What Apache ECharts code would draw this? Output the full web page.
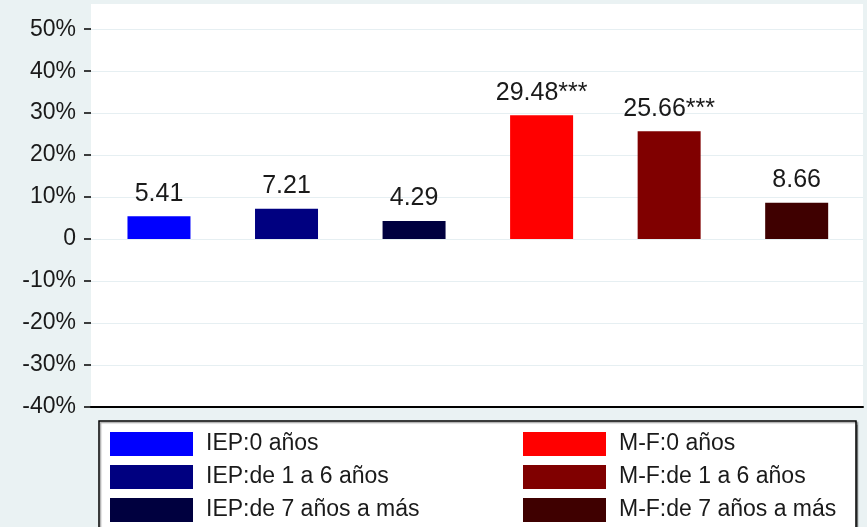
<!DOCTYPE html>
<html>
<head>
<meta charset="utf-8">
<script src="https://cdn.jsdelivr.net/npm/echarts@6/dist/echarts.min.js"></script>
<style>html,body{margin:0;padding:0;background:#EAF2F3;}#c{width:867px;height:527px;}</style>
</head>
<body>
<div id="c"></div>
<script>
const categories = ['IEP:0 años', 'IEP:de 1 a 6 años', 'IEP:de 7 años a más', 'M-F:0 años', 'M-F:de 1 a 6 años', 'M-F:de 7 años a más'];
const values = [5.41, 7.21, 4.29, 29.48, 25.66, 8.66];
const stars = ['', '', '', '***', '***', ''];
const colors = ['#0000FF', '#000080', '#00003F', '#FF0000', '#800000', '#3F0000'];
const yTicks = [-40, -30, -20, -10, 0, 10, 20, 30, 40, 50];

const FONT = '"Liberation Sans", Arial, sans-serif';
const chart = echarts.init(document.getElementById('c'), null, {renderer: 'canvas'});

const series = categories.map((name, i) => ({
  name: name,
  type: 'bar',
  data: [[i, values[i]]],
  barWidth: 63,
  barGap: '-100%',
  itemStyle: {color: colors[i]},
  label: {
    show: true,
    position: 'top',
    distance: 10,
    formatter: () => values[i].toFixed(2) + stars[i],
    fontFamily: FONT,
    fontSize: 25,
    color: '#1a1a1a'
  }
}));

const legendBase = {
  orient: 'vertical',
  top: 432,
  padding: 0,
  icon: 'rect',
  itemWidth: 83,
  itemHeight: 24,
  itemGap: 9,
  z: 10,
  textStyle: {fontFamily: FONT, fontSize: 23, color: '#1a1a1a', padding: [0, 0, 0, 8]}
};

chart.setOption({
  backgroundColor: '#EAF2F3',
  animation: false,
  grid: {left: 91, right: 4, top: 4, bottom: 120, show: true, backgroundColor: '#ffffff', borderWidth: 0},
  xAxis: {
    type: 'value',
    min: -0.533,
    max: 5.52,
    axisLine: {show: true, onZero: false, lineStyle: {color: '#000', width: 2}},
    axisTick: {show: false},
    axisLabel: {show: false},
    splitLine: {show: false}
  },
  yAxis: {
    type: 'value',
    min: -40,
    max: 56,
    interval: 10,
    axisLine: {show: false, onZero: false},
    axisTick: {show: true, length: 7, customValues: yTicks, lineStyle: {color: '#000', width: 1.5}},
    axisLabel: {
      customValues: yTicks,
      margin: 15,
      fontFamily: FONT,
      fontSize: 23,
      color: '#1a1a1a',
      formatter: v => (v === 0 ? '0' : v + '%')
    },
    splitLine: {show: true, lineStyle: {color: '#E6EFF2', width: 1}}
  },
  legend: [
    Object.assign({}, legendBase, {left: 110, data: categories.slice(0, 3)}),
    Object.assign({}, legendBase, {left: 523, data: categories.slice(3)})
  ],
  graphic: [{
    type: 'rect',
    z: 0,
    shape: {x: 99, y: 421, width: 757, height: 140},
    style: {fill: '#ffffff', stroke: '#000', lineWidth: 1.5, shadowColor: 'rgba(0,0,0,0.35)', shadowOffsetX: 1.5, shadowOffsetY: 1.5, shadowBlur: 1}
  }],
  series: series
});
</script>
</body>
</html>
